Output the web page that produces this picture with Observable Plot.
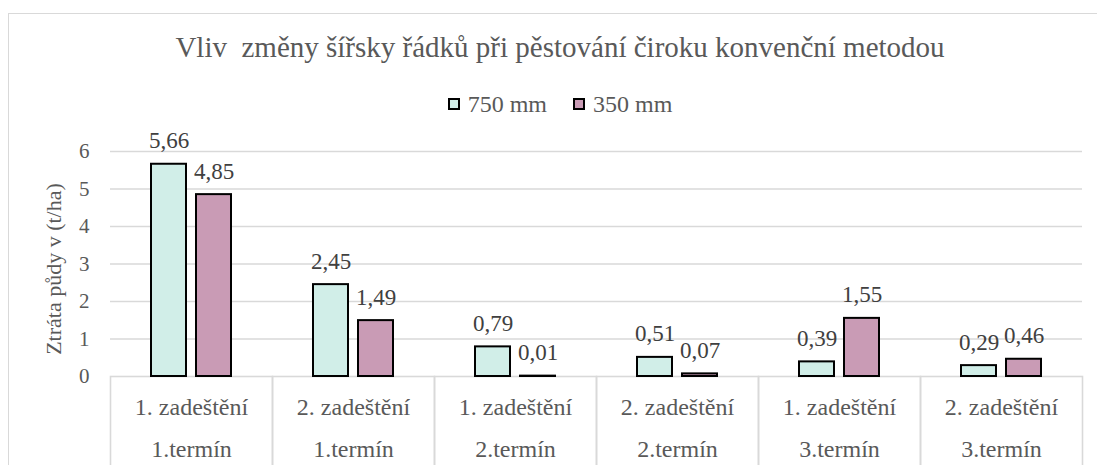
<!DOCTYPE html>
<html>
<head>
<meta charset="utf-8">
<script src="https://cdn.jsdelivr.net/npm/d3@7"></script>
<script src="https://cdn.jsdelivr.net/npm/@observablehq/plot@0.6"></script>
</head>
<body style="margin:0;padding:0;background:#fff;overflow:hidden;width:1097px;height:465px;position:relative;font-family:'Liberation Serif';">
<div id="frame" style="position:absolute;left:8px;top:13px;width:1104px;height:520px;border:1.5px solid #d9d9d9;box-sizing:border-box;"></div>
<div id="chart" style="position:absolute;left:0;top:110px;"></div>
<div id="title" style="position:absolute;left:8px;width:1104px;top:32px;text-align:center;font-family:'Liberation Serif';font-size:29px;color:#595959;white-space:pre;line-height:30px;"></div>
<div id="legend" style="position:absolute;left:8px;width:1104px;top:91px;text-align:center;font-family:'Liberation Serif';font-size:24px;color:#595959;line-height:26px;"></div>
<div id="ylabel" style="position:absolute;left:54px;top:269px;transform:translate(-50%,-50%) rotate(-90deg);white-space:nowrap;font-family:'Liberation Serif';font-size:22px;color:#595959;line-height:24px;"></div>
<script>
const title = "Vliv  změny šířsky řádků při pěstování čiroku konvenční metodou";
const yLabel = "Ztráta půdy v (t/ha)";
const rainLabels = ["1. zadeštění", "2. zadeštění", "1. zadeštění", "2. zadeštění", "1. zadeštění", "2. zadeštění"];
const termLabels = ["1.termín", "1.termín", "2.termín", "2.termín", "3.termín", "3.termín"];
const series = ["750 mm", "350 mm"];
const seriesColors = ["#d1eee8", "#c99bb5"];
const values750 = [5.66, 2.45, 0.79, 0.51, 0.39, 0.29];
const values350 = [4.85, 1.49, 0.01, 0.07, 1.55, 0.46];
const yTicks = [0, 1, 2, 3, 4, 5, 6];

const groups = d3.range(rainLabels.length);
const table = [];
groups.forEach(i => {
  table.push({group: i, series: series[0], value: values750[i]});
  table.push({group: i, series: series[1], value: values350[i]});
});

document.getElementById("title").textContent = title;
document.getElementById("ylabel").textContent = yLabel;
const legend = document.getElementById("legend");
series.forEach((s, k) => {
  const it = document.createElement("span");
  it.style.cssText = "display:inline-block;margin:0 13px;font-family:'Liberation Serif';";
  const sw = document.createElement("span");
  sw.style.cssText = "display:inline-block;width:8px;height:8px;border:2px solid #000;margin-right:8px;vertical-align:2px;background:" + seriesColors[k];
  it.appendChild(sw);
  it.appendChild(document.createTextNode(s));
  legend.appendChild(it);
});

const fmt = v => d3.format(".2f")(v).replace(".", ",");
const H = 380, MT = 41, MB = 114;
const plotH = H - MT - MB;
const grey = "#d9d9d9";
const serifFont = "Liberation Serif";

const chart = Plot.plot({
  width: 1097,
  height: H,
  marginTop: MT,
  marginBottom: MB,
  marginLeft: 108,
  marginRight: 14,
  style: {fontFamily: serifFont, color: "#595959", background: "transparent", overflow: "visible"},
  fx: {domain: groups, padding: 0, axis: null, label: null},
  x: {domain: series, paddingInner: 0.22, paddingOuter: 0.9, axis: null},
  y: {domain: [0, 6], label: null},
  color: {domain: series, range: seriesColors},
  marks: [
    Plot.gridY(yTicks.filter(t => t > 0), {stroke: grey, strokeOpacity: 1, strokeWidth: 1.6}),
    Plot.frame({stroke: grey, strokeWidth: 1.6, insetTop: plotH, insetBottom: -MB}),
    Plot.axisY({ticks: yTicks, tickSize: 0, tickPadding: 21, fontSize: 21, fontFamily: serifFont, tickFormat: d => String(d), label: null}),
    Plot.barY(table, {fx: "group", x: "series", y: "value", fill: "series", stroke: "#000", strokeWidth: 2}),
    Plot.text(table, {fx: "group", x: "series", y: "value", text: d => fmt(d.value), lineAnchor: "bottom", dy: -16, fontSize: 23, fontFamily: serifFont, fill: "#404040"}),
    Plot.text(groups, {fx: d => d, text: d => rainLabels[d], frameAnchor: "bottom", lineAnchor: "middle", dy: 31, fontSize: 24, fontFamily: serifFont, fill: "#595959"}),
    Plot.text(groups, {fx: d => d, text: d => termLabels[d], frameAnchor: "bottom", lineAnchor: "middle", dy: 73, fontSize: 24, fontFamily: serifFont, fill: "#595959"})
  ]
});
document.getElementById("chart").appendChild(chart);
</script>
</body>
</html>
